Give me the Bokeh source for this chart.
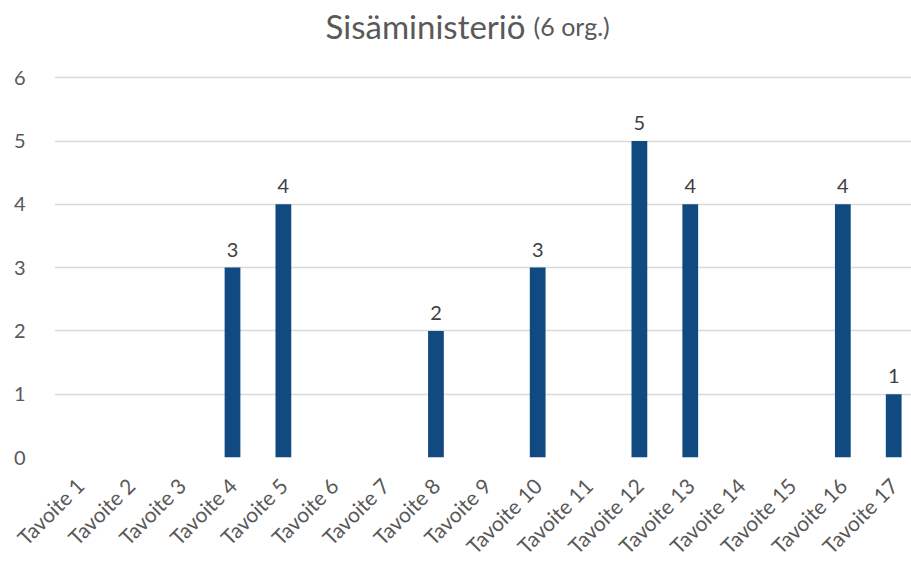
import math
from bokeh.plotting import figure
from bokeh.models import ColumnDataSource, Range1d, FixedTicker
from bokeh.embed import file_html
from bokeh.resources import INLINE
from bokeh.core.properties import value

categories = ["Tavoite %d" % i for i in range(1, 18)]
counts = [0, 0, 0, 3, 4, 0, 0, 2, 0, 3, 0, 5, 4, 0, 0, 4, 1]
y_ticks = [0, 1, 2, 3, 4, 5, 6]
title_main = "Sisäministeriö"
title_sub = "(6 org.)"

FONT = "Lato"
BAR = "#104A80"
GREY = "#595959"

xs = list(range(len(categories)))
src = ColumnDataSource(dict(x=xs, top=counts))

p = figure(output_backend="svg", toolbar_location=None,
           frame_width=857, frame_height=457,
           min_border_left=54, min_border_right=0, min_border_top=0,
           x_range=Range1d(-0.5, 16.35), y_range=Range1d(0, 7.22))

p.vbar(x="x", top="top", width=0.31, source=src, fill_color=BAR, line_color=None)

lab_src = ColumnDataSource(dict(x=[x for x, c in zip(xs, counts) if c > 0],
                                y=[c for c in counts if c > 0],
                                t=[str(c) for c in counts if c > 0]))
p.text(x="x", y="y", text="t", source=lab_src, text_align="center",
       text_baseline="alphabetic", y_offset=-18, text_font=value(FONT),
       text_font_size="20px", text_color="#404040")

# title (two sizes), placed in the empty space above the value grid
p.text(x=[8.76], y=[6.82], text=[title_main], text_align="right",
       text_baseline="alphabetic", text_font=value(FONT),
       text_font_size="33px", text_color=GREY)
p.text(x=[8.92], y=[6.82], text=[title_sub], text_align="left",
       text_baseline="alphabetic", text_font=value(FONT),
       text_font_size="25px", text_color=GREY)

p.xaxis.ticker = FixedTicker(ticks=xs)
p.xaxis.major_label_overrides = {i: c for i, c in enumerate(categories)}
p.xaxis.major_label_orientation = math.pi / 4
p.yaxis.ticker = FixedTicker(ticks=y_ticks)

for ax in (p.xaxis, p.yaxis):
    ax.axis_line_color = None
    ax.major_tick_line_color = None
    ax.minor_tick_line_color = None
    ax.major_label_text_font = FONT
    ax.major_label_text_color = GREY
p.xaxis.major_label_text_font_size = "21px"
p.yaxis.major_label_text_font_size = "20px"
p.yaxis.major_label_standoff = 23
p.xaxis.major_label_standoff = 18

p.xgrid.grid_line_color = None
p.ygrid.grid_line_color = "#D9D9D9"
p.ygrid.grid_line_width = 1.3
p.outline_line_color = None

open("out.html", "w").write(file_html(p, INLINE))
